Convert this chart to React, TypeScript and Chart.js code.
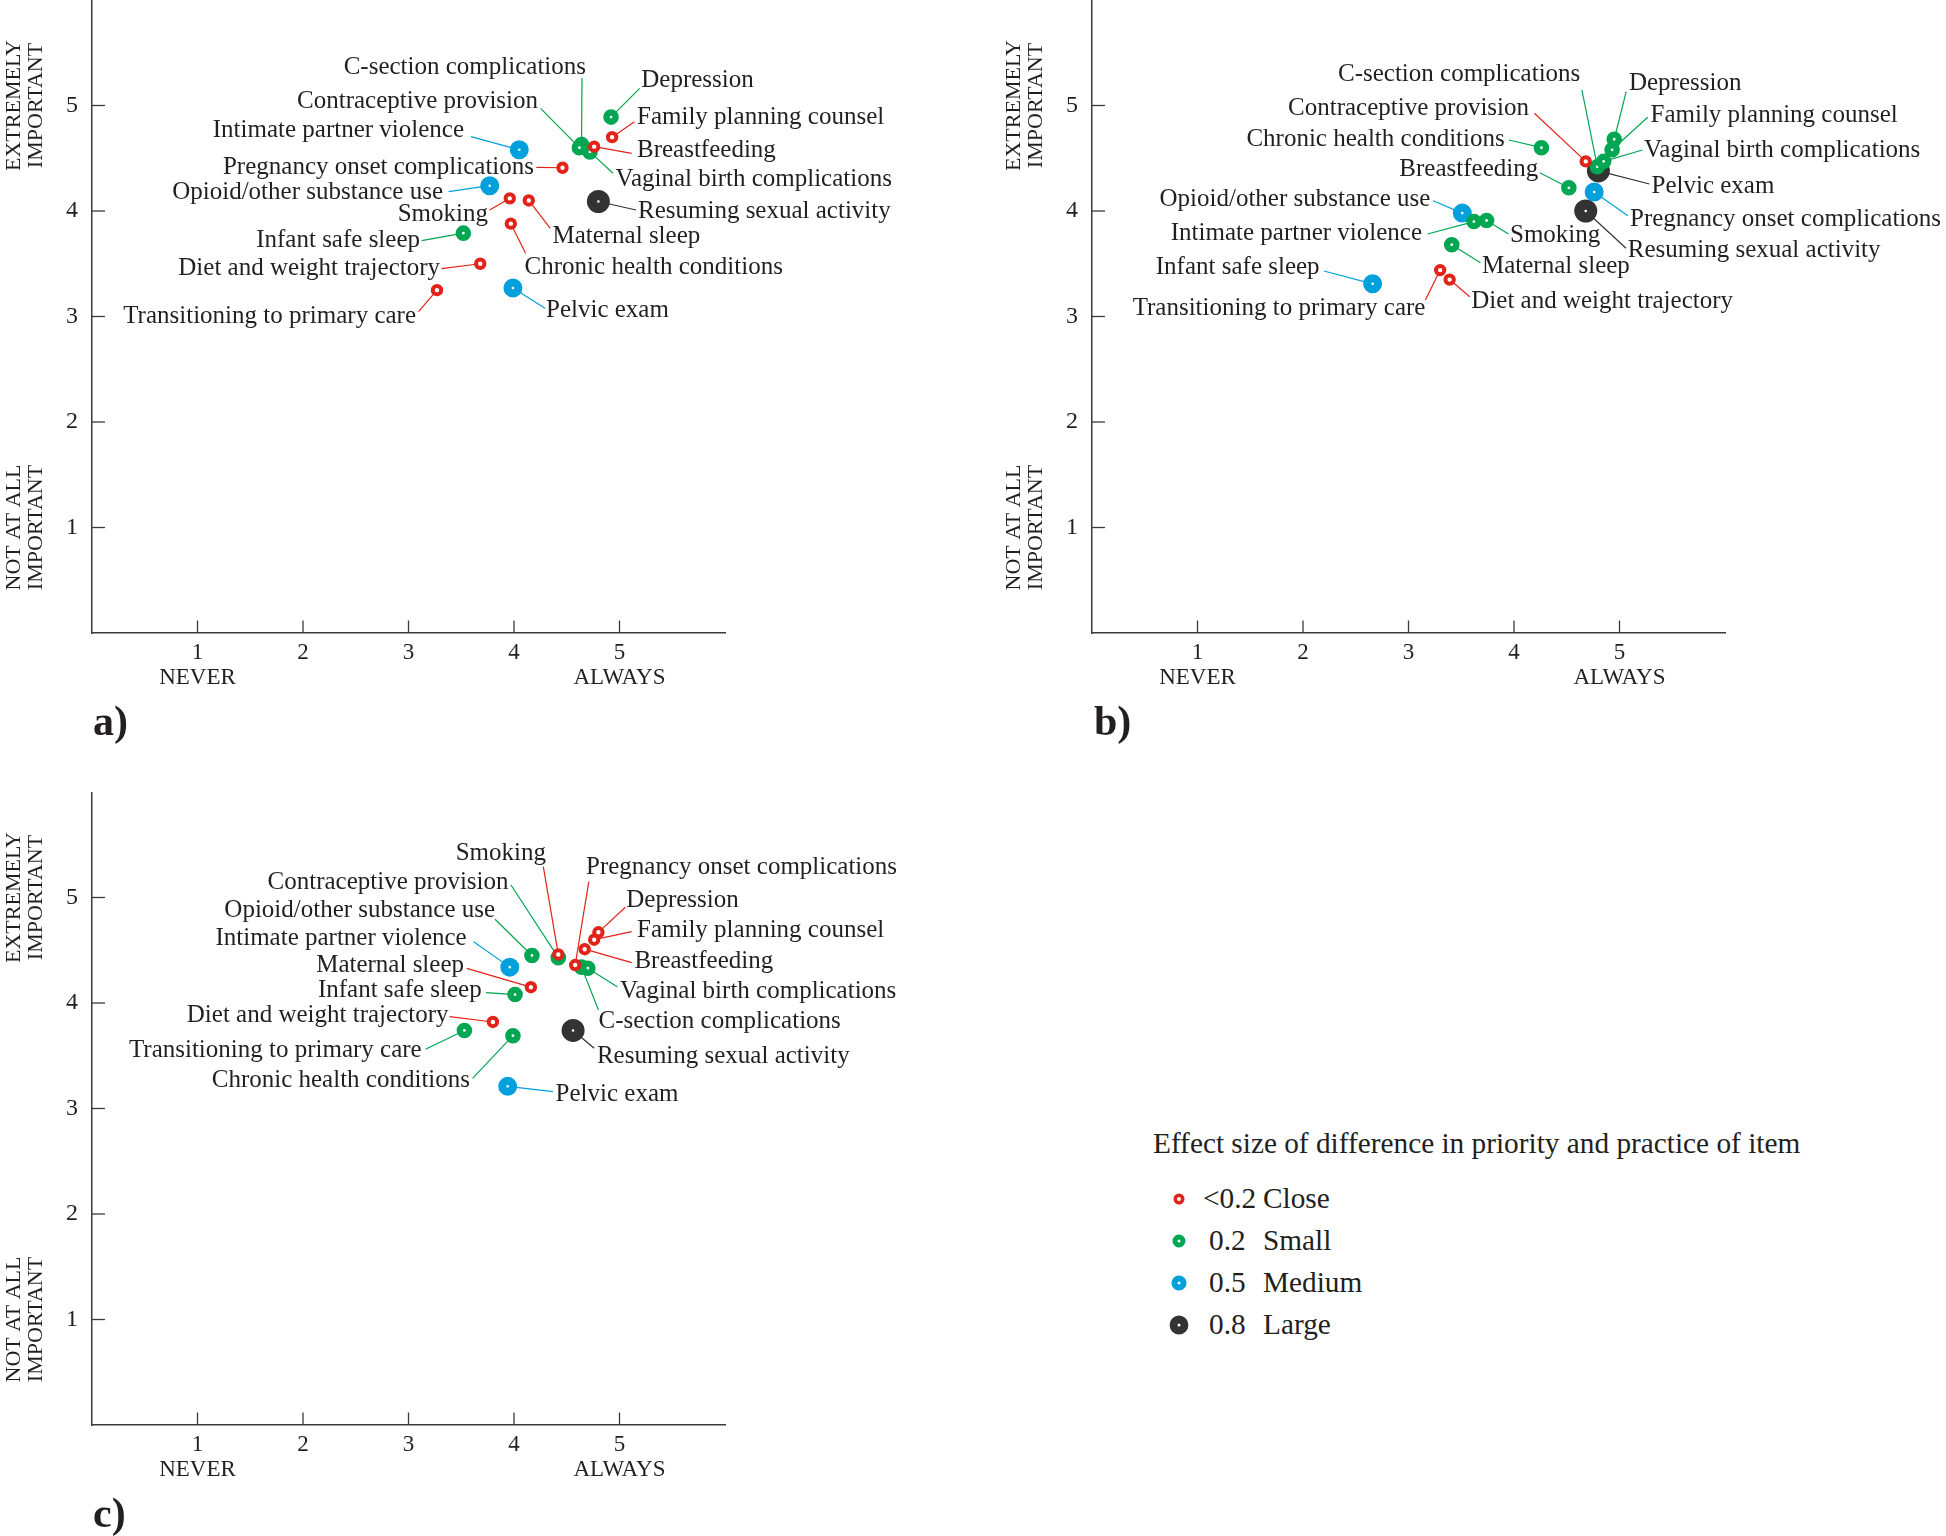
import React, { useEffect, useRef } from 'react';
import { Chart, registerables } from 'chart.js';

Chart.register(...registerables);

const FONT = '"Liberation Serif", "Times New Roman", Times, serif';
const TEXT = '#231F20';
const AXIS = '#3A3A3A';

// ---------- data ----------
const ITEMS = [
  'Depression',
  'Family planning counsel',
  'Breastfeeding',
  'C-section complications',
  'Contraceptive provision',
  'Vaginal birth complications',
  'Intimate partner violence',
  'Pregnancy onset complications',
  'Opioid/other substance use',
  'Smoking',
  'Maternal sleep',
  'Resuming sexual activity',
  'Chronic health conditions',
  'Infant safe sleep',
  'Diet and weight trajectory',
  'Transitioning to primary care',
  'Pelvic exam',
];

const EFFECT_LEVELS = ['<0.2', '0.2', '0.5', '0.8'];
const EFFECT_NAMES = ['Close', 'Small', 'Medium', 'Large'];
const EFFECT_COLORS = ['#E2231A', '#00A651', '#00A0DC', '#333333'];

// panel a
const A_PRACTICE = [4.92, 4.93, 4.76, 4.64, 4.62, 4.72, 4.05, 4.46, 3.77, 3.96, 4.14, 4.80, 3.97, 3.52, 3.68, 3.27, 3.99];
const A_PRIORITY = [4.89, 4.70, 4.61, 4.63, 4.60, 4.56, 4.58, 4.41, 4.24, 4.12, 4.10, 4.09, 3.88, 3.79, 3.50, 3.25, 3.27];
const A_EFFECT = [1, 0, 0, 1, 1, 1, 2, 0, 2, 0, 0, 3, 0, 1, 0, 0, 2];

// panel b
const B_PRACTICE = [4.95, 4.93, 4.52, 4.79, 4.68, 4.85, 3.62, 4.76, 3.51, 3.74, 3.41, 4.68, 4.26, 2.66, 3.39, 3.30, 4.80];
const B_PRIORITY = [4.68, 4.58, 4.22, 4.42, 4.47, 4.47, 3.90, 4.18, 3.98, 3.91, 3.68, 4.00, 4.60, 3.31, 3.35, 3.44, 4.38];
const B_EFFECT = [1, 1, 1, 1, 0, 1, 1, 2, 2, 1, 1, 3, 1, 2, 0, 0, 3];

// panel c
const C_PRACTICE = [4.80, 4.76, 4.67, 4.64, 4.42, 4.70, 3.96, 4.58, 4.17, 4.42, 4.16, 4.56, 3.99, 4.01, 3.80, 3.53, 3.94];
const C_PRIORITY = [4.67, 4.60, 4.51, 4.34, 4.43, 4.33, 4.34, 4.36, 4.45, 4.46, 4.15, 3.74, 3.69, 4.08, 3.82, 3.74, 3.21];
const C_EFFECT = [0, 0, 0, 1, 1, 1, 2, 0, 1, 0, 0, 3, 1, 1, 0, 1, 2];

const X_TICKS = [1, 2, 3, 4, 5];
const X_TICK_SUB = ['NEVER', '', '', '', 'ALWAYS'];
const Y_TICKS = [1, 2, 3, 4, 5];
const Y_HIGH_LABEL = ['EXTREMELY', 'IMPORTANT'];
const Y_LOW_LABEL = ['NOT AT ALL', 'IMPORTANT'];
const LEGEND_TITLE = 'Effect size of difference in priority and practice of item';

// ---------- layout (label placement, pixels relative to plot area) ----------
// [textX, textY, align, leaderEndX, leaderEndY]
type Lab = [number, number, string, number, number];
const A_LABELS: Lab[] = [
  [549.3, 80, 'l', 547.7, 88.3],
  [545, 117.7, 'l', 542.4, 121.7],
  [545, 150, 'l', 539.7, 153.3],
  [494, 67.7, 'r', 490, 78],
  [446, 101, 'r', 448.6, 108.3],
  [523.6, 179.3, 'l', 521, 173.3],
  [372, 130, 'r', 379, 136.7],
  [442, 167.3, 'r', 444.3, 167.3],
  [351, 192.7, 'r', 356.5, 191.7],
  [396, 214, 'r', 397.7, 210],
  [460.4, 236.7, 'l', 458.3, 228.3],
  [546, 211.7, 'l', 544, 210],
  [432.6, 267.7, 'l', 433.6, 253.3],
  [328, 240, 'r', 329.7, 240.7],
  [348, 268.7, 'r', 349.5, 268.7],
  [324, 316, 'r', 326.5, 311.7],
  [454, 310, 'l', 453, 308.3],
];
const B_LABELS: Lab[] = [
  [536.9, 83.3, 'l', 534.2, 91.7],
  [558.5, 115, 'l', 555.7, 117.3],
  [446.2, 169.3, 'r', 447.8, 172.7],
  [488.3, 74.3, 'r', 489.9, 90],
  [437, 108.3, 'r', 442.4, 113.3],
  [552, 150, 'l', 550.4, 150],
  [330, 233.3, 'r', 335.6, 234],
  [538, 219, 'l', 535.8, 215.7],
  [338.3, 199.3, 'r', 341, 200.7],
  [418, 235, 'l', 416.5, 234],
  [390, 266.7, 'l', 388.5, 262.7],
  [535.8, 250, 'l', 534, 248.3],
  [412.7, 139.3, 'r', 417, 140],
  [227.6, 267.7, 'r', 232, 271],
  [379.3, 301.7, 'l', 377.7, 296.7],
  [333.4, 308.3, 'r', 333.4, 300],
  [559.5, 186.7, 'l', 557.4, 184],
];
const C_LABELS: Lab[] = [
  [534.3, 108, 'l', 533.3, 115.3],
  [545, 138, 'l', 539.7, 139.7],
  [542.4, 169.7, 'l', 539.7, 170.7],
  [506.5, 229.7, 'l', 506.5, 218],
  [416.5, 90.3, 'r', 419, 93],
  [528, 199.7, 'l', 525.2, 194.7],
  [374.7, 146.3, 'r', 381.7, 149.7],
  [494, 75.7, 'l', 496.8, 89.7],
  [403.1, 118.7, 'r', 403, 127.3],
  [454, 61.3, 'r', 451.3, 74.7],
  [372, 173, 'r', 374.7, 176.3],
  [504.9, 264.7, 'l', 502.2, 256.3],
  [378, 288.7, 'r', 380.6, 286.3],
  [389.7, 198.7, 'r', 394, 200.7],
  [356.5, 223, 'r', 357.6, 224.7],
  [329.7, 258, 'r', 333.5, 257.3],
  [463.6, 302, 'l', 461, 299.7],
];

// marker geometry per effect level: [radius, borderWidth]
const MARKER = [[4.2, 4], [4.6, 6.4], [5.4, 8.2], [6.4, 10.2]];
// legend marker: [outer radius, hole radius]
const LEGEND_MARKER = [[5.5, 2], [6.5, 1.5], [7.6, 1.5], [9.4, 1.5]];

const PLOT = 633;
const Y_W = 92;
const X_H = 80;
const CANVAS_H = PLOT + X_H;

type PanelProps = {
  practice: number[];
  priority: number[];
  effect: number[];
  labels: Lab[];
  left: number;
  top: number;
  width: number;
};

function Panel({ practice, priority, effect, labels, left, top, width }: PanelProps) {
  const ref = useRef<HTMLCanvasElement>(null);

  useEffect(() => {
    const canvas = ref.current;
    if (!canvas) return;

    const drawYTitle = (ctx: CanvasRenderingContext2D, lines: string[], cx: number[], cy: number) => {
      lines.forEach((t, k) => {
        ctx.save();
        ctx.translate(cx[k], cy);
        ctx.rotate(-Math.PI / 2);
        ctx.textAlign = 'center';
        ctx.textBaseline = 'middle';
        ctx.fillText(t, 0, 0);
        ctx.restore();
      });
    };

    const labelPlugin = {
      id: 'itemLabels',
      beforeDatasetsDraw(chart: any) {
        const { ctx, chartArea, scales } = chart;
        const xs = scales.x;
        const ys = scales.y;
        ctx.save();
        // inward tick marks
        ctx.strokeStyle = AXIS;
        ctx.lineWidth = 1.3;
        X_TICKS.forEach((v) => {
          const px = xs.getPixelForValue(v);
          ctx.beginPath();
          ctx.moveTo(px, chartArea.bottom);
          ctx.lineTo(px, chartArea.bottom - 12.5);
          ctx.stroke();
        });
        Y_TICKS.forEach((v) => {
          const py = ys.getPixelForValue(v);
          ctx.beginPath();
          ctx.moveTo(chartArea.left, py);
          ctx.lineTo(chartArea.left + 13, py);
          ctx.stroke();
        });
        // y-axis end titles
        ctx.fillStyle = TEXT;
        ctx.font = `22px ${FONT}`;
        const cx = [chartArea.left - 78, chartArea.left - 56];
        drawYTitle(ctx, Y_HIGH_LABEL, cx, ys.getPixelForValue(5));
        drawYTitle(ctx, Y_LOW_LABEL, cx, ys.getPixelForValue(1));
        // leader lines
        ctx.lineWidth = 1.2;
        ITEMS.forEach((_, i) => {
          const px = xs.getPixelForValue(practice[i]);
          const py = ys.getPixelForValue(priority[i]);
          const l = labels[i];
          ctx.strokeStyle = EFFECT_COLORS[effect[i]];
          ctx.beginPath();
          ctx.moveTo(px, py);
          ctx.lineTo(chartArea.left + l[3], chartArea.top + l[4]);
          ctx.stroke();
        });
        ctx.restore();
      },
      afterDatasetsDraw(chart: any) {
        const { ctx, chartArea } = chart;
        ctx.save();
        ctx.fillStyle = TEXT;
        ctx.font = `25px ${FONT}`;
        ctx.textBaseline = 'middle';
        ITEMS.forEach((name, i) => {
          const l = labels[i];
          ctx.textAlign = l[2] === 'l' ? 'left' : 'right';
          ctx.fillText(name, chartArea.left + l[0], chartArea.top + l[1]);
        });
        ctx.restore();
      },
    };

    const datasets = [0, 1, 2, 3].map((e) => ({
      label: `${EFFECT_LEVELS[e]} ${EFFECT_NAMES[e]}`,
      data: ITEMS.map((_, i) => ({ x: practice[i], y: priority[i], e: effect[i] })).filter((d) => d.e === e),
      pointStyle: 'circle',
      pointRadius: MARKER[e][0],
      pointBorderWidth: MARKER[e][1],
      pointBackgroundColor: '#FFFFFF',
      pointBorderColor: EFFECT_COLORS[e],
      showLine: false,
      clip: false,
    }));

    const zeroPad = (s: any) => {
      s.paddingLeft = 0;
      s.paddingRight = 0;
      s.paddingTop = 0;
      s.paddingBottom = 0;
    };

    const chart = new Chart(canvas, {
      type: 'scatter',
      data: { datasets },
      plugins: [labelPlugin],
      options: {
        responsive: false,
        animation: false,
        events: [],
        layout: {
          autoPadding: false,
          padding: { left: 0, top: 0, right: width - Y_W - PLOT, bottom: 0 },
        },
        plugins: { legend: { display: false }, tooltip: { enabled: false } },
        scales: {
          x: {
            type: 'linear',
            position: 'bottom',
            min: 0,
            max: 6,
            grid: { display: false, drawTicks: false },
            border: { display: true, color: AXIS, width: 1.5 },
            afterBuildTicks: (axis: any) => {
              axis.ticks = X_TICKS.map((v) => ({ value: v }));
            },
            ticks: {
              autoSkip: false,
              maxRotation: 0,
              minRotation: 0,
              padding: 7,
              color: TEXT,
              font: { family: FONT, size: 23, lineHeight: 1.1 },
              callback: (v: any) => {
                const i = X_TICKS.indexOf(Number(v));
                return i >= 0 && X_TICK_SUB[i] ? [String(v), X_TICK_SUB[i]] : String(v);
              },
            },
            afterFit: (s: any) => {
              s.height = X_H;
              zeroPad(s);
            },
          },
          y: {
            type: 'linear',
            position: 'left',
            min: 0,
            max: 6,
            grid: { display: false, drawTicks: false },
            border: { display: true, color: AXIS, width: 1.5 },
            afterBuildTicks: (axis: any) => {
              axis.ticks = Y_TICKS.map((v) => ({ value: v }));
            },
            ticks: {
              autoSkip: false,
              padding: 14,
              color: TEXT,
              font: { family: FONT, size: 24 },
              callback: (v: any) => String(v),
            },
            afterFit: (s: any) => {
              s.width = Y_W;
              zeroPad(s);
            },
          },
        },
      } as any,
    });
    return () => chart.destroy();
  }, [practice, priority, effect, labels, width]);

  return (
    <canvas
      ref={ref}
      width={width}
      height={CANVAS_H}
      style={{ position: 'absolute', left, top, width, height: CANVAS_H }}
    />
  );
}

function PanelLetter({ text, left, top }: { text: string; left: number; top: number }) {
  return (
    <div
      style={{
        position: 'absolute',
        left,
        top,
        font: `bold 42px ${FONT}`,
        lineHeight: '42px',
        color: TEXT,
        whiteSpace: 'nowrap',
      }}
    >
      {text}
    </div>
  );
}

function Legend() {
  const rowsY = [1199, 1241, 1283, 1325];
  const textStyle = {
    position: 'absolute' as const,
    font: `29.3px ${FONT}`,
    lineHeight: '29px',
    color: TEXT,
    whiteSpace: 'nowrap' as const,
  };
  return (
    <>
      <div style={{ ...textStyle, left: 1153, top: 1129 }}>{LEGEND_TITLE}</div>
      {EFFECT_LEVELS.map((lvl, i) => {
        const [outer, hole] = LEGEND_MARKER[i];
        const cy = rowsY[i];
        const size = 24;
        return (
          <React.Fragment key={lvl}>
            <svg
              width={size}
              height={size}
              style={{ position: 'absolute', left: 1179 - size / 2, top: cy - size / 2 }}
            >
              <circle
                cx={size / 2}
                cy={size / 2}
                r={(outer + hole) / 2}
                fill="#FFFFFF"
                stroke={EFFECT_COLORS[i]}
                strokeWidth={outer - hole}
              />
            </svg>
            <div style={{ ...textStyle, left: i === 0 ? 1203 : 1209, top: cy - 14.7 }}>{lvl}</div>
            <div style={{ ...textStyle, left: 1263, top: cy - 14.7 }}>{EFFECT_NAMES[i]}</div>
          </React.Fragment>
        );
      })}
    </>
  );
}

export default function App() {
  return (
    <div
      style={{
        position: 'absolute',
        left: 0,
        top: 0,
        width: 1946,
        height: 1536,
        background: '#FFFFFF',
        overflow: 'hidden',
      }}
    >
      <Panel practice={A_PRACTICE} priority={A_PRIORITY} effect={A_EFFECT} labels={A_LABELS} left={0} top={0} width={980} />
      <Panel practice={B_PRACTICE} priority={B_PRIORITY} effect={B_EFFECT} labels={B_LABELS} left={1000} top={0} width={946} />
      <Panel practice={C_PRACTICE} priority={C_PRIORITY} effect={C_EFFECT} labels={C_LABELS} left={0} top={792} width={980} />
      <PanelLetter text="a)" left={93} top={700} />
      <PanelLetter text="b)" left={1094} top={700} />
      <PanelLetter text="c)" left={93} top={1492} />
      <Legend />
    </div>
  );
}
